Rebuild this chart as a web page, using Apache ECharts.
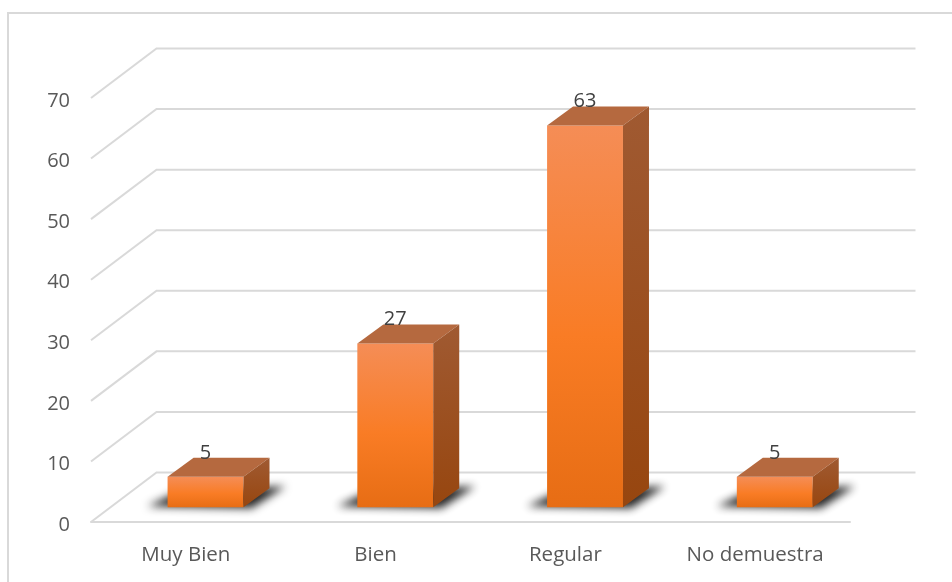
<!DOCTYPE html>
<html><head><meta charset="utf-8">
<style>html,body{margin:0;padding:0;background:#fff}#c{width:952px;height:582px}</style>
<script src="https://cdn.jsdelivr.net/npm/echarts@6/dist/echarts.min.js"></script>
</head><body><div id="c"></div>
<script>
const categories = ['Muy Bien','Bien','Regular','No demuestra'];
const values = [5,27,63,5];
const yTicks = [0,10,20,30,40,50,60,70];

const FONT = '"Open Sans", sans-serif';
const WALL_DX = 65.5, WALL_DY = 49.5;
const chart = echarts.init(document.getElementById('c'), null, {renderer:'canvas'});

function wallItem(params, api){
  const band = api.size([1,0])[0];
  const p = api.coord([0, api.value(0)]);
  const x0 = p[0]-band/2, y = p[1];
  return {type:'polyline', silent:true, shape:{points:[[x0,y],[x0+WALL_DX,y-WALL_DY],[x0+band*categories.length+WALL_DX,y-WALL_DY]]},
    style:{stroke:'#d9d9d9',lineWidth:2,fill:null}};
}
function barItem(params, api){
  const band = api.size([1,0])[0];
  const w = band*0.4;
  const top = api.coord([api.value(0), api.value(1)]);
  const bot = api.coord([api.value(0), 0]);
  const fx = WALL_DX*0.3, fy = WALL_DY*0.3;
  const dx = 26, dy = 19;
  const L = top[0]-w/2+fx, R = L+w, T = top[1]-fy, B = bot[1]-fy;
  const off = 3000;
  return {type:'group', children:[
    {type:'polygon', silent:true, shape:{points:[[L-20-off,B-1],[L+12-off,B-16],[R+42-off,B-21],[R+8-off,B+1]]},
      style:{fill:'#222',shadowBlur:9,shadowColor:'rgba(25,25,25,0.95)',shadowOffsetX:off}},
    {type:'rect', silent:true, shape:{x:L,y:T,width:w,height:B-T},
      style:{fill:{type:'linear',x:0,y:0,x2:0,y2:1,colorStops:[{offset:0,color:'#F58D56'},{offset:0.55,color:'#F97C25'},{offset:1,color:'#E76D14'}]}}},
    {type:'polygon', silent:true, shape:{points:[[L,T],[L+dx,T-dy],[R+dx,T-dy],[R,T]]},
      style:{fill:'#B5693F'}},
    {type:'polygon', silent:true, shape:{points:[[R,T],[R+dx,T-dy],[R+dx,B-dy],[R,B]]},
      style:{fill:{type:'linear',x:0,y:0,x2:0,y2:1,colorStops:[{offset:0,color:'#A05A32'},{offset:1,color:'#97460F'}]}}},
    {type:'text', silent:true, style:{text:String(api.value(1)),x:L+w/2,y:T-24,align:'center',verticalAlign:'middle',fill:'#404040',font:'20px '+FONT}}
  ]};
}

chart.setOption({
  animation:false,
  backgroundColor:'#fff',
  grid:{left:91,top:98,width:759,height:424,containLabel:false},
  graphic:[{type:'polyline',silent:true,shape:{points:[[8,582],[8,13],[952,13]]},style:{stroke:'#d9d9d9',lineWidth:2,fill:null}}],
  xAxis:{type:'category',data:categories,axisTick:{show:false},
    axisLine:{lineStyle:{color:'#d9d9d9',width:2}},
    axisLabel:{color:'#595959',fontFamily:'"Open Sans", sans-serif',fontSize:20.5,margin:23,interval:0}},
  yAxis:{type:'value',min:0,max:70,interval:10,splitLine:{show:false},axisLine:{show:false},axisTick:{show:false},
    axisLabel:{margin:21,formatter:'{a|{value}}',rich:{a:{color:'#595959',fontFamily:'"Open Sans", sans-serif',fontSize:20,padding:[6,0,0,0]}}}},
  series:[
    {type:'custom',data:yTicks.map(v=>[v]),encode:{y:0},renderItem:wallItem,z:1,silent:true},
    {type:'custom',data:values.map((v,i)=>[i,v]),encode:{x:0,y:1},renderItem:barItem,z:3,silent:true}
  ]
});
</script></body></html>
